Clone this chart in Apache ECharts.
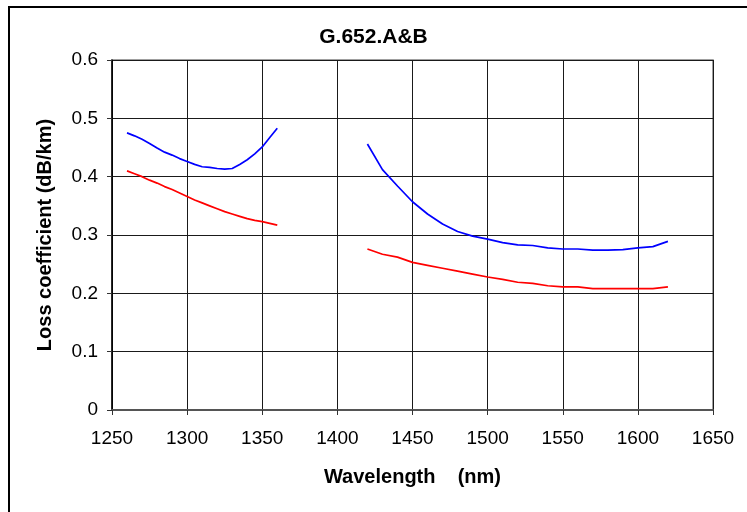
<!DOCTYPE html>
<html>
<head>
<meta charset="utf-8">
<script src="https://cdn.jsdelivr.net/npm/echarts@6/dist/echarts.min.js"></script>
<style>
  html, body { margin: 0; padding: 0; background: #fff; overflow: hidden; }
  #chart { width: 747px; height: 512px; }
  #frame {
    position: absolute; left: 8px; top: 6px; width: 760px; height: 520px;
    border-top: 2px solid #000; border-left: 2px solid #000; pointer-events: none;
  }
</style>
</head>
<body>
<div id="chart"></div>
<div id="frame"></div>
<script>
// band 1 (O-band region)
const wl1 = [1260, 1265, 1270, 1275, 1280, 1285, 1290, 1295, 1300, 1305, 1310, 1315, 1320, 1325, 1330, 1335, 1340, 1345, 1350, 1355, 1360]
const blue1 = [0.475, 0.470, 0.464, 0.457, 0.449, 0.442, 0.437, 0.431, 0.426, 0.421, 0.417, 0.416, 0.414, 0.413, 0.414, 0.421, 0.429, 0.439, 0.451, 0.467, 0.483]
const red1 = [0.410, 0.405, 0.400, 0.394, 0.389, 0.383, 0.378, 0.372, 0.366, 0.360, 0.355, 0.350, 0.345, 0.340, 0.336, 0.332, 0.328, 0.325, 0.323, 0.320, 0.317]

// band 2 (E/S/C/L region)
const wl2 = [1420, 1430, 1440, 1450, 1460, 1470, 1480, 1490, 1500, 1510, 1520, 1530, 1540, 1550, 1560, 1570, 1580, 1590, 1600, 1610, 1620]
const blue2 = [0.456, 0.412, 0.384, 0.357, 0.336, 0.319, 0.306, 0.298, 0.293, 0.287, 0.283, 0.282, 0.278, 0.276, 0.276, 0.274, 0.274, 0.275, 0.278, 0.280, 0.289]
const red2 = [0.276, 0.267, 0.262, 0.253, 0.248, 0.243, 0.238, 0.233, 0.228, 0.224, 0.219, 0.217, 0.213, 0.211, 0.211, 0.208, 0.208, 0.208, 0.208, 0.208, 0.211]

const chartTitle = 'G.652.A&B'
const xName = 'Wavelength    (nm)'
const yName = 'Loss coefficient (dB/km)'

function pairs(xs, ys) {
  return xs.map((x, i) => [x, ys[i]])
}

// join the two bands with a gap so the line breaks between them
function joined(ysA, ysB) {
  return pairs(wl1, ysA).concat([[1390, null]], pairs(wl2, ysB))
}

const font = 'Arial, "Liberation Sans", sans-serif'
const chart = echarts.init(document.getElementById('chart'))

function lineSeries(name, color, data) {
  return {
    name,
    type: 'line',
    data,
    symbol: 'none',
    smooth: false,
    connectNulls: false,
    lineStyle: { color, width: 1.7 },
    animation: false
  }
}

chart.setOption({
  backgroundColor: '#fff',
  animation: false,
  title: {
    text: chartTitle,
    left: 'center',
    top: 22,
    textStyle: { fontFamily: font, fontSize: 21, fontWeight: 'bold', color: '#000' }
  },
  grid: {
    left: 112,
    right: 34,
    top: 60,
    bottom: 102,
    show: true,
    borderColor: '#808080',
    borderWidth: 1.5,
    backgroundColor: '#fff'
  },
  xAxis: {
    type: 'value',
    min: 1250,
    max: 1650,
    interval: 50,
    axisLine: { onZero: false, lineStyle: { color: '#555', width: 2 } },
    axisTick: { show: true, inside: false, length: 5, lineStyle: { color: '#333' } },
    splitLine: { show: true, lineStyle: { color: '#1a1a1a', width: 1 } },
    axisLabel: {
      fontFamily: font, fontSize: 19, color: '#000', margin: 19,
      formatter: v => String(v)
    },
    name: xName,
    nameLocation: 'middle',
    nameGap: 57,
    nameTextStyle: { fontFamily: font, fontSize: 20, fontWeight: 'bold', color: '#000' }
  },
  yAxis: {
    type: 'value',
    min: 0,
    max: 0.6,
    interval: 0.1,
    axisLine: { show: true, lineStyle: { color: '#000', width: 1.5 } },
    axisTick: { show: true, inside: false, length: 5, lineStyle: { color: '#333' } },
    splitLine: { show: true, lineStyle: { color: '#1a1a1a', width: 1 } },
    axisLabel: {
      fontFamily: font, fontSize: 19, color: '#000', margin: 14,
      formatter: v => (v === 0 ? '0' : v.toFixed(1))
    },
    name: yName,
    nameLocation: 'middle',
    nameGap: 57,
    nameTextStyle: { fontFamily: font, fontSize: 20, fontWeight: 'bold', color: '#000' }
  },
  series: [
    lineSeries('upper', '#0000ff', joined(blue1, blue2)),
    lineSeries('lower', '#ff0000', joined(red1, red2))
  ]
})
</script>
</body>
</html>
